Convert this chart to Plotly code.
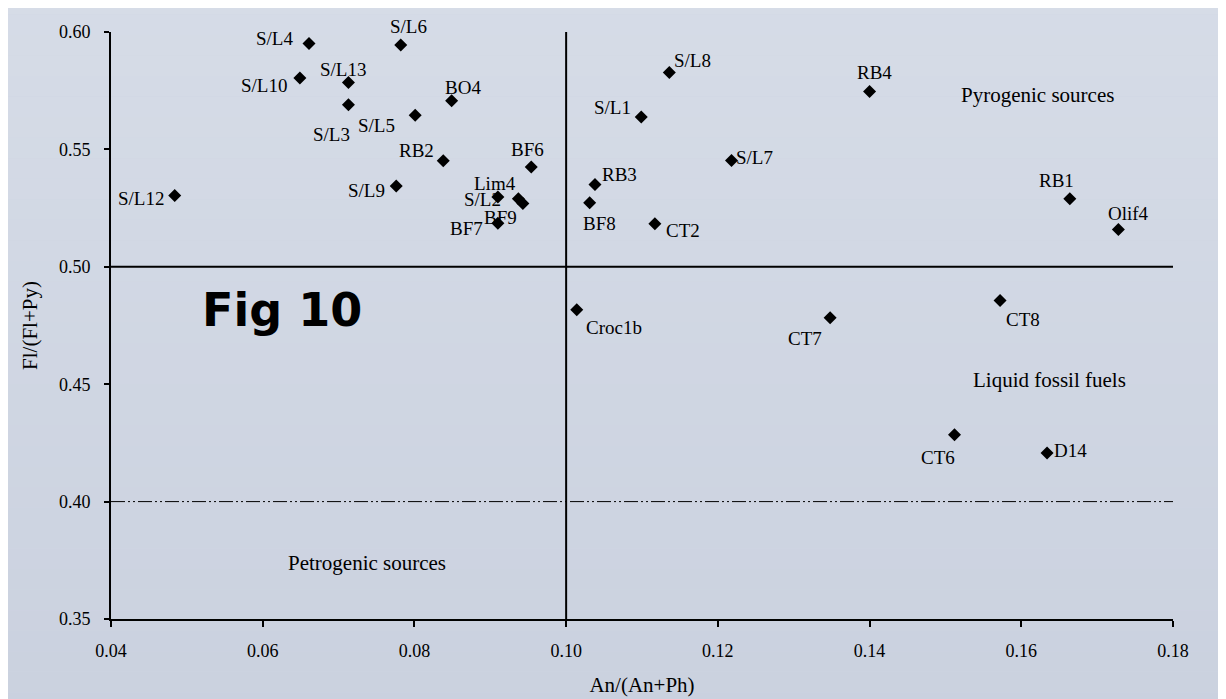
import plotly.graph_objects as go

# ---- data ----
samples = ["S/L4", "S/L6", "S/L10", "S/L13", "S/L3", "S/L5", "BO4", "RB2", "S/L9", "S/L12",
           "BF6", "Lim4", "S/L2", "BF9", "BF7", "BF8", "RB3", "CT2",
           "S/L8", "S/L1", "RB4", "S/L7", "RB1", "Olif4",
           "Croc1b", "CT7", "CT8", "CT6", "D14"]
an_ratio = [0.0661, 0.0782, 0.0649, 0.0713, 0.0713, 0.0801, 0.0849, 0.0838, 0.0776, 0.0484,
            0.0954, 0.0910, 0.0937, 0.0943, 0.0910, 0.1031, 0.1038, 0.1117,
            0.1136, 0.1099, 0.1400, 0.1218, 0.1664, 0.1728,
            0.1014, 0.1348, 0.1572, 0.1512, 0.1634]
fl_ratio = [0.5951, 0.5945, 0.5804, 0.5785, 0.5690, 0.5645, 0.5707, 0.5452, 0.5344, 0.5304,
            0.5425, 0.5297, 0.5290, 0.5270, 0.5186, 0.5273, 0.5351, 0.5183,
            0.5827, 0.5638, 0.5747, 0.5453, 0.5290, 0.5159,
            0.4817, 0.4783, 0.4856, 0.4285, 0.4207]

x_ticks = [0.04, 0.06, 0.08, 0.10, 0.12, 0.14, 0.16, 0.18]
y_ticks = [0.35, 0.40, 0.45, 0.50, 0.55, 0.60]
an_threshold = 0.10
fl_threshold = 0.50
fl_petro = 0.40

# ---- label offsets (pixels; +x right, +y down on screen) ----
label_offsets = {
    "S/L4": (-34, -5), "S/L6": (8, -18), "S/L10": (-36, 7), "S/L13": (-5, -13),
    "S/L3": (-17, 30), "S/L5": (-39, 10), "BO4": (11, -13), "RB2": (-27, -10),
    "S/L9": (-30, 4), "S/L12": (-34, 3), "BF6": (-4, -18), "Lim4": (-3, -14),
    "S/L2": (-36, 1), "BF9": (-22, 14), "BF7": (-31, 5), "BF8": (10, 21),
    "RB3": (25, -10), "CT2": (28, 7), "S/L8": (23, -12), "S/L1": (-29, -10),
    "RB4": (5, -19), "S/L7": (23, -3), "RB1": (-13, -18), "Olif4": (10, -16),
    "Croc1b": (37, 18), "CT7": (-25, 21), "CT8": (23, 19), "CT6": (-17, 23),
    "D14": (23, -3),
}

serif = "Liberation Serif, Times New Roman, serif"
fig = go.Figure()

fig.add_trace(go.Scatter(
    x=an_ratio, y=fl_ratio, mode="markers",
    marker=dict(symbol="diamond", size=10, color="black"),
    hoverinfo="text", text=samples, showlegend=False,
))

# background gradient bands
n_bands = 40
top = (214, 220, 231)
bot = (201, 208, 222)
shapes = []
for i in range(n_bands):
    t = i / (n_bands - 1)
    c = tuple(round(top[k] + (bot[k] - top[k]) * t) for k in range(3))
    shapes.append(dict(type="rect", xref="paper", yref="paper", layer="below",
                       x0=-0.2, x1=1.2, y0=1.1 - (i + 1) * 1.4 / n_bands, y1=1.1 - i * 1.4 / n_bands,
                       line=dict(width=0), fillcolor="rgb(%d,%d,%d)" % c))

# threshold lines
shapes.append(dict(type="line", xref="x", yref="y", x0=an_threshold, x1=an_threshold,
                   y0=0.35, y1=0.60, line=dict(color="black", width=2)))
shapes.append(dict(type="line", xref="x", yref="y", x0=0.04, x1=0.18,
                   y0=fl_threshold, y1=fl_threshold, line=dict(color="black", width=2)))
shapes.append(dict(type="line", xref="x", yref="y", x0=0.04, x1=0.18,
                   y0=fl_petro, y1=fl_petro,
                   line=dict(color="black", width=1, dash="14px,3px,2px,3px,2px,3px")))

annotations = []
for name, xv, yv in zip(samples, an_ratio, fl_ratio):
    dx, dy = label_offsets.get(name, (0, -15))
    annotations.append(dict(x=xv, y=yv, xref="x", yref="y", text=name, showarrow=False,
                            xshift=dx, yshift=-dy, xanchor="center", yanchor="middle",
                            font=dict(family=serif, size=19, color="black")))

annotations += [
    dict(x=0.1622, y=0.5732, xref="x", yref="y", text="Pyrogenic sources", showarrow=False,
         xanchor="center", yanchor="middle", font=dict(family=serif, size=21, color="black")),
    dict(x=0.1637, y=0.4520, xref="x", yref="y", text="Liquid fossil fuels", showarrow=False,
         xanchor="center", yanchor="middle", font=dict(family=serif, size=21, color="black")),
    dict(x=0.0737, y=0.3740, xref="x", yref="y", text="Petrogenic sources", showarrow=False,
         xanchor="center", yanchor="middle", font=dict(family=serif, size=21, color="black")),
    dict(x=0.0625, y=0.4817, xref="x", yref="y", text="<b>Fig 10</b>", showarrow=False,
         xanchor="center", yanchor="middle",
         font=dict(family="DejaVu Sans, sans-serif", size=46, color="black")),
]

fig.update_layout(
    width=1226, height=699,
    margin=dict(l=103, r=61, t=24, b=88),
    paper_bgcolor="rgb(207,213,226)", plot_bgcolor="rgba(0,0,0,0)",
    shapes=shapes, annotations=annotations,
    xaxis=dict(range=[0.04, 0.18], tickvals=x_ticks, ticktext=["%.2f" % v for v in x_ticks],
               showgrid=False, zeroline=False, showline=True, linecolor="black", linewidth=2,
               ticks="outside", ticklen=6, tickwidth=2, tickcolor="black",
               ticklabelstandoff=8,
               tickfont=dict(family=serif, size=18, color="black"),
               title=dict(text="An/(An+Ph)", font=dict(family=serif, size=21, color="black"),
                          standoff=18)),
    yaxis=dict(range=[0.35, 0.60], tickvals=y_ticks, ticktext=["%.2f" % v for v in y_ticks],
               showgrid=False, zeroline=False, showline=True, linecolor="black", linewidth=2,
               ticks="outside", ticklen=5, tickwidth=2, tickcolor="black",
               ticklabelstandoff=10,
               tickfont=dict(family=serif, size=18, color="black"),
               title=dict(text="Fl/(Fl+Py)", font=dict(family=serif, size=21, color="black"),
                          standoff=16)),
)

fig.write_html("out.html")
